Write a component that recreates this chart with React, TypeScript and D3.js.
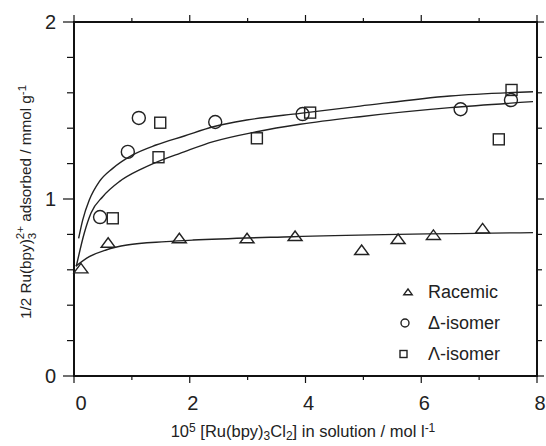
import { useEffect, useRef } from 'react';
import * as d3 from 'd3';

const racemicX = [0.12, 0.59, 1.82, 2.99, 3.82, 4.97, 5.60, 6.21, 7.06];
const racemicY = [0.608, 0.753, 0.778, 0.778, 0.791, 0.712, 0.774, 0.797, 0.834];

const deltaX = [0.45, 0.93, 1.12, 2.44, 3.95, 6.68, 7.55];
const deltaY = [0.898, 1.266, 1.458, 1.435, 1.48, 1.507, 1.559];

const lambdaX = [0.67, 1.46, 1.49, 3.16, 4.08, 7.34, 7.56];
const lambdaY = [0.891, 1.236, 1.431, 1.343, 1.488, 1.337, 1.616];

// fitted isotherm curves
const upperCurveX = [0.08, 0.15, 0.264, 0.437, 0.669, 1.014, 1.417, 1.906, 2.407, 2.984, 3.905, 4.942, 6.497, 7.931];
const upperCurveY = [0.778, 0.881, 0.994, 1.098, 1.173, 1.249, 1.305, 1.356, 1.408, 1.446, 1.484, 1.525, 1.582, 1.606];

const lowerCurveX = [0.04, 0.178, 0.294, 0.496, 0.783, 1.187, 1.59, 1.83, 2.407, 3.157, 3.905, 4.942, 6.497, 7.931];
const lowerCurveY = [0.62, 0.808, 0.921, 1.013, 1.098, 1.173, 1.23, 1.258, 1.324, 1.38, 1.422, 1.465, 1.516, 1.55];

const racemicCurveX = [0.03, 0.264, 0.553, 0.916, 1.59, 2.056, 3.784, 7.931];
const racemicCurveY = [0.62, 0.674, 0.712, 0.74, 0.759, 0.768, 0.787, 0.81];

const xTickLabels = [0, 2, 4, 6, 8];
const yTickLabels = [0, 1, 2];
const legendLabels = ['Racemic', 'Δ-isomer', 'Λ-isomer'];

const font = "'Liberation Sans', Arial, sans-serif";

const zip = (xs: number[], ys: number[]) => xs.map((x, i) => [x, ys[i]] as [number, number]);

function App() {
  const svgRef = useRef<SVGSVGElement>(null);

  useEffect(() => {
    const svg = d3.select(svgRef.current);
    svg.selectAll('*').remove();

    const x = d3.scaleLinear().domain([0, 8]).range([74, 537]);
    const y = d3.scaleLinear().domain([0, 2]).range([376, 22]);

    svg.append('rect').attr('width', 546).attr('height', 446).attr('fill', '#fff');

    // ticks on all four sides, pointing outwards
    const t = svg.append('g').attr('stroke', '#111').attr('stroke-width', 1.2);
    d3.range(0, 2.0001, 0.2).forEach(v => {
      const major = Math.abs(v - Math.round(v)) < 1e-6;
      t.append('line').attr('x1', x(0) - (major ? 11 : 7)).attr('x2', x(0))
        .attr('y1', y(v)).attr('y2', y(v));
      t.append('line').attr('x1', x(8)).attr('x2', x(8) + (major ? 7 : 5))
        .attr('y1', y(v)).attr('y2', y(v));
    });
    d3.range(0, 9).forEach(v => {
      const major = v % 2 === 0;
      t.append('line').attr('x1', x(v)).attr('x2', x(v))
        .attr('y1', y(0)).attr('y2', y(0) + (major ? 7 : 4));
      t.append('line').attr('x1', x(v)).attr('x2', x(v))
        .attr('y1', y(2)).attr('y2', y(2) - (major ? 7 : 4));
    });

    svg.append('rect')
      .attr('x', x(0)).attr('y', y(2))
      .attr('width', x(8) - x(0)).attr('height', y(0) - y(2))
      .attr('fill', 'none').attr('stroke', '#111').attr('stroke-width', 2);

    svg.append('g').selectAll('text').data(xTickLabels).join('text')
      .attr('x', d => x(d) + (d === 0 ? 7 : 3)).attr('y', 410)
      .attr('text-anchor', 'middle').attr('font-family', font).attr('font-size', 20)
      .attr('fill', '#222').text(d => d);

    svg.append('g').selectAll('text').data(yTickLabels).join('text')
      .attr('x', 56).attr('y', d => y(d) + 7)
      .attr('text-anchor', 'end').attr('font-family', font).attr('font-size', 20)
      .attr('fill', '#222').text(d => d);

    // fitted curves
    const line = d3.line<[number, number]>()
      .x(d => x(d[0])).y(d => y(d[1]))
      .curve(d3.curveMonotoneX);
    [zip(upperCurveX, upperCurveY), zip(lowerCurveX, lowerCurveY), zip(racemicCurveX, racemicCurveY)]
      .forEach(pts => {
        svg.append('path').attr('d', line(pts)).attr('fill', 'none')
          .attr('stroke', '#222').attr('stroke-width', 1.4);
      });

    const tri = (s: number) => `M${-7 * s},${4.5 * s}L${7 * s},${4.5 * s}L0,${-5 * s}Z`;
    const marks = svg.append('g').attr('fill', 'none').attr('stroke', '#222').attr('stroke-width', 1.4);

    marks.selectAll('path.tri').data(zip(racemicX, racemicY)).join('path')
      .attr('class', 'tri').attr('d', tri(1))
      .attr('transform', d => `translate(${x(d[0])},${y(d[1])})`);
    marks.selectAll('circle').data(zip(deltaX, deltaY)).join('circle')
      .attr('cx', d => x(d[0])).attr('cy', d => y(d[1])).attr('r', 6.5);
    marks.selectAll('rect').data(zip(lambdaX, lambdaY)).join('rect')
      .attr('x', d => x(d[0]) - 5.5).attr('y', d => y(d[1]) - 5.5)
      .attr('width', 11).attr('height', 11);

    // legend
    const lg = svg.append('g');
    legendLabels.forEach((label, i) => {
      const ly = 292 + i * 31;
      if (i === 0) {
        lg.append('path').attr('d', tri(0.6)).attr('transform', `translate(408,${ly})`)
          .attr('fill', 'none').attr('stroke', '#222').attr('stroke-width', 1.4);
      } else if (i === 1) {
        lg.append('circle').attr('cx', 405).attr('cy', ly).attr('r', 4)
          .attr('fill', 'none').attr('stroke', '#222').attr('stroke-width', 1.4);
      } else {
        lg.append('rect').attr('x', 400).attr('y', ly - 3.5).attr('width', 7).attr('height', 7)
          .attr('fill', 'none').attr('stroke', '#222').attr('stroke-width', 1.4);
      }
      lg.append('text').attr('x', 428).attr('y', ly + 6)
        .attr('font-family', font).attr('font-size', 18).attr('fill', '#222').text(label);
    });

    // x axis title
    const xt = svg.append('text').attr('x', 303).attr('y', 437)
      .attr('text-anchor', 'middle').attr('font-family', font).attr('font-size', 16.5).attr('fill', '#222');
    xt.append('tspan').text('10');
    xt.append('tspan').attr('dy', -5).attr('font-size', 12).text('5');
    xt.append('tspan').attr('dy', 5).text(' [Ru(bpy)');
    xt.append('tspan').attr('dy', 3).attr('font-size', 12).text('3');
    xt.append('tspan').attr('dy', -3).text('Cl');
    xt.append('tspan').attr('dy', 3).attr('font-size', 12).text('2');
    xt.append('tspan').attr('dy', -3).text('] in solution / mol l');
    xt.append('tspan').attr('dy', -5).attr('font-size', 12).text('-1');

    // y axis title
    const yt = svg.append('text').attr('transform', 'translate(31,202) rotate(-90)')
      .attr('text-anchor', 'middle').attr('font-family', font).attr('font-size', 15.3).attr('fill', '#222');
    yt.append('tspan').text('1/2 Ru(bpy)');
    yt.append('tspan').attr('dy', 5).attr('font-size', 11.5).text('3');
    yt.append('tspan').attr('dx', -6.5).attr('dy', -12).attr('font-size', 11.5).text('2+');
    yt.append('tspan').attr('dy', 7).text('  adsorbed / mmol g');
    yt.append('tspan').attr('dy', -5).attr('font-size', 11.5).text('-1');
  }, []);

  return (
    <svg ref={svgRef} width={546} height={446}
      style={{ position: 'absolute', left: 0, top: 0 }} />
  );
}

export default App;
